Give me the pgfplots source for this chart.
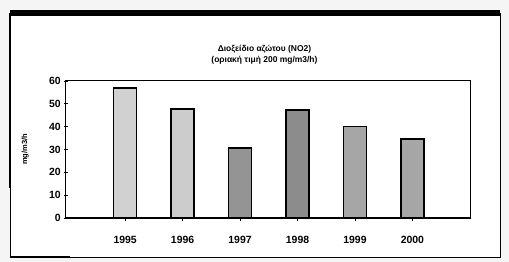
\documentclass[border=0pt]{standalone}
\usepackage{pgfplots}
\pgfplotsset{compat=1.18}
\usepackage{fontspec}
\setmainfont{Liberation Sans}
\begin{document}
\begin{tikzpicture}
\useasboundingbox[fill=black!4] (-66bp,-44bp) rectangle (443bp,218bp);
\fill[white] (-56bp,-39bp) rectangle (434bp,205bp);
\draw[line width=0.8bp] (-56bp,-39bp) rectangle (434bp,205bp);
\draw[line width=6bp] (-56bp,205bp) -- (434bp,205bp);
\draw[line width=2.5bp] (-56bp,-39bp) -- (4bp,-39bp);
\draw[line width=2.5bp] (-56bp,205bp) -- (-56bp,30bp);
\begin{axis}[
  at={(0,0)}, anchor=south west,
  scale only axis, width=405bp, height=137bp,
  xmin=-1.03, xmax=6.02, ymin=0, ymax=60,
  ytick={0,10,...,60},
  xtick={0,1,2,3,4,5},
  xticklabels={1995,1996,1997,1998,1999,2000},
  ytick pos=left, xtick pos=bottom,
  /pgf/number format/assume math mode=true,
  tick label style={font=\fontsize{10.5}{11}\selectfont\bfseries},
  xticklabel style={yshift=-11bp},
  tick align=center,
  major tick length=3.5bp,
  tick style={black, line width=0.7bp},
  axis line style={line width=1bp},
  ylabel={mg/m3/h},
  every axis y label/.style={at={(axis description cs:-0.101,0.5)}, rotate=90, anchor=center, font=\fontsize{7.5}{8}\selectfont\bfseries},
  ybar, bar width=23bp, bar shift=0pt,
  every axis plot/.append style={draw=black, line width=1.6bp},
  clip=false,
]
\addplot[fill=black!18] coordinates {(0,57)};
\addplot[fill=black!20] coordinates {(1,47.8)};
\addplot[fill=black!42] coordinates {(2,30.7)};
\addplot[fill=black!45] coordinates {(3,47.4)};
\addplot[fill=black!35] coordinates {(4,40)};
\addplot[fill=black!35] coordinates {(5,34.6)};
\draw[line width=2bp] (axis cs:-1.03,0) -- (axis cs:6.02,0);
\node[align=center, font=\fontsize{8.5}{11}\selectfont\bfseries, anchor=south]
  at (axis description cs:0.49,1) [yshift=13bp]
  {Διοξείδιο αζώτου (NO2)\\(οριακή τιμή 200 mg/m3/h)};
\end{axis}
\end{tikzpicture}
\end{document}
